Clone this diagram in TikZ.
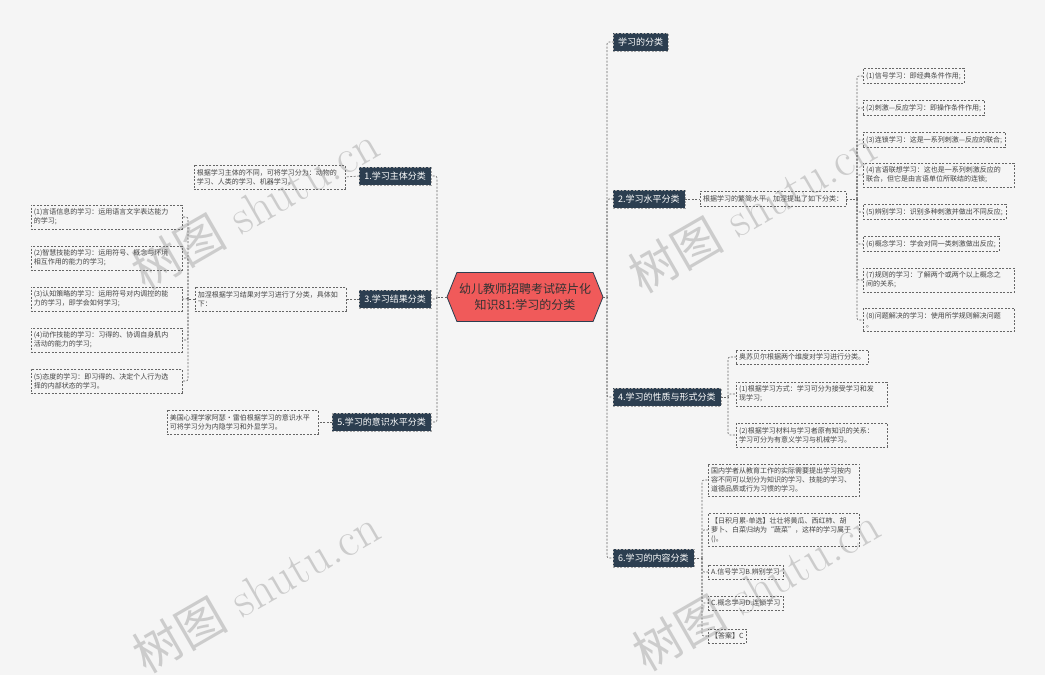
\documentclass[tikz,border=0pt]{standalone}
\usepackage{fontspec}
\newfontfamily\cjk{Noto Sans CJK SC}
\usetikzlibrary{shapes.symbols}
\definecolor{bgcol}{HTML}{F5F5F5}
\definecolor{navy}{HTML}{2C3E50}
\definecolor{rootred}{HTML}{F05A5A}
\definecolor{inkgray}{HTML}{444444}

\begin{document}
\begin{tikzpicture}[
    x=1pt, y=-1pt,
    font=\cjk,
    % Node styles
    root/.style={signal, signal to=west and east, signal pointer angle=136, draw=navy, line width=0.8pt, fill=rootred, text=black!80, font=\cjk\fontsize{12}{16}\selectfont, align=center, minimum height=49pt, minimum width=156pt, inner xsep=2pt},
    branch/.style={draw=gray!70, dash pattern=on 2pt off 1.5pt, fill=navy, text=white, font=\cjk\fontsize{9}{11}\selectfont, inner xsep=5pt, inner ysep=5pt},
    leaf/.style={draw=black!60, dash pattern=on 2pt off 1.5pt, text=inkgray, font=\cjk\fontsize{7}{9}\selectfont, align=left, inner xsep=3pt, inner ysep=4pt},
    wide/.style={leaf, text width=145pt},
    link/.style={draw=black!60, dash pattern=on 2pt off 1.5pt, line width=0.6pt, rounded corners=2pt},
    wmark/.style={text=gray, text opacity=0.35, font=\rmfamily\fontsize{48}{48}\selectfont, rotate=30},
]

    % Background
    \fill[bgcol] (0,0) rectangle (1045,675);
    \useasboundingbox (0,0) rectangle (1045,675);

    % Centre
    \node[root] (root) at (525,297) {幼儿教师招聘考试碎片化\\知识81:学习的分类};

    % Branches
    \node[branch, anchor=west] (cls) at (613,42) {学习的分类};
    \node[branch, anchor=west] (lvl) at (613,199) {2.学习水平分类};
    \node[branch, anchor=west] (nat) at (613,397) {4.学习的性质与形式分类};
    \node[branch, anchor=west] (cont) at (613,558) {6.学习的内容分类};
    \node[branch, anchor=east] (subj) at (431,176) {1.学习主体分类};
    \node[branch, anchor=east] (res) at (431,299) {3.学习结果分类};
    \node[branch, anchor=east] (aware) at (431,422) {5.学习的意识水平分类};

    % Trunks
    \coordinate (rt) at (607,297);
    \coordinate (lt) at (437,297);
    \draw[link] (root.east) -- (rt);
    \draw[link] (root.west) -- (lt);
    \foreach \b in {cls,lvl,nat,cont} \draw[link] (rt) |- (\b.west);
    \foreach \b in {subj,res,aware} \draw[link] (lt) |- (\b.east);

    % 1. subject
    \node[wide, anchor=east] (subjleaf) at (345,177) {根据学习主体的不同，可将学习分为：动物的\\学习、人类的学习、机器学习。};
    \draw[link] (subj.west) -- (subjleaf.east);

    % 2. level
    \node[leaf, anchor=west] (lvlintro) at (700,199) {根据学习的繁简水平，加涅提出了如下分类：};
    \node[leaf, anchor=west] (lvl1) at (863,76) {(1)信号学习：即经典条件作用;};
    \node[leaf, anchor=west] (lvl2) at (863,108) {(2)刺激—反应学习：即操作条件作用;};
    \node[leaf, anchor=west] (lvl3) at (863,140) {(3)连锁学习：这是一系列刺激—反应的联合;};
    \node[wide, anchor=west] (lvl4) at (863,175) {(4)言语联想学习：这也是一系列刺激反应的\\联合，但它是由言语单位所联结的连锁;};
    \node[leaf, anchor=west] (lvl5) at (863,212) {(5)辨别学习：识别多种刺激并做出不同反应;};
    \node[leaf, anchor=west] (lvl6) at (863,244) {(6)概念学习：学会对同一类刺激做出反应;};
    \node[wide, anchor=west] (lvl7) at (863,280) {(7)规则的学习：了解两个或两个以上概念之\\间的关系;};
    \node[wide, anchor=west] (lvl8) at (863,320) {(8)问题解决的学习：使用所学规则解决问题\\。};
    \coordinate (lvlt) at (857,199);
    \draw[link] (lvl.east) -- (lvlintro.west);
    \draw[link] (lvlintro.east) -- (lvlt);
    \foreach \i in {1,...,8} \draw[link] (lvlt) |- (lvl\i.west);

    % 3. result
    \node[wide, anchor=east] (resintro) at (346,299) {加涅根据学习结果对学习进行了分类，具体如\\下：};
    \node[wide, anchor=east] (res1) at (182,217) {(1)言语信息的学习：运用语言文字表达能力\\的学习;};
    \node[wide, anchor=east] (res2) at (182,258) {(2)智慧技能的学习：运用符号、概念与环境\\相互作用的能力的学习;};
    \node[wide, anchor=east] (res3) at (182,299) {(3)认知策略的学习：运用符号对内调控的能\\力的学习，即学会如何学习;};
    \node[wide, anchor=east] (res4) at (182,340) {(4)动作技能的学习：习得的、协调自身肌内\\活动的能力的学习;};
    \node[wide, anchor=east] (res5) at (182,381) {(5)态度的学习：即习得的、决定个人行为选\\择的内部状态的学习。};
    \coordinate (rest) at (188,299);
    \draw[link] (res.west) -- (resintro.east);
    \draw[link] (resintro.west) -- (rest);
    \foreach \i in {1,...,5} \draw[link] (rest) |- (res\i.east);

    % 4. nature and form
    \node[leaf, anchor=west] (nat1) at (736,357) {奥苏贝尔根据两个维度对学习进行分类。};
    \node[wide, anchor=west] (nat2) at (736,394) {(1)根据学习方式：学习可分为接受学习和发\\现学习;};
    \node[wide, anchor=west] (nat3) at (736,435) {(2)根据学习材料与学习者原有知识的关系：\\学习可分为有意义学习与机械学习。};
    \coordinate (natt) at (728,397);
    \draw[link] (nat.east) -- (natt);
    \foreach \i in {1,...,3} \draw[link] (natt) |- (nat\i.west);

    % 5. awareness
    \node[wide, anchor=east] (awareleaf) at (318,422) {美国心理学家阿瑟•雷伯根据学习的意识水平\\可将学习分为内隐学习和外显学习。};
    \draw[link] (aware.west) -- (awareleaf.east);

    % 6. content
    \node[wide, anchor=west] (cont1) at (708,480) {国内学者从教育工作的实际需要提出学习按内\\容不同可以划分为知识的学习、技能的学习、\\道德品质或行为习惯的学习。};
    \node[wide, anchor=west] (cont2) at (708,530) {【日积月累-单选】壮壮将黄瓜、西红柿、胡\\萝卜、白菜归纳为“蔬菜”，这样的学习属于\\()。};
    \node[leaf, anchor=west] (cont3) at (708,572) {A.信号学习B.辨别学习};
    \node[leaf, anchor=west] (cont4) at (708,603) {C.概念学习D.连锁学习};
    \node[leaf, anchor=west] (cont5) at (708,636) {【答案】C};
    \coordinate (contt) at (702,558);
    \draw[link] (cont.east) -- (contt);
    \foreach \i in {1,...,5} \draw[link] (contt) |- (cont\i.west);

    % Watermarks
    \node[wmark] (wm1) at (255,207) {{\cjk 树图} shutu.cn};
    \node[wmark] (wm2) at (752,210) {{\cjk 树图} shutu.cn};
    \node[wmark] (wm3) at (256,590) {{\cjk 树图} shutu.cn};
    \node[wmark] (wm4) at (756,588) {{\cjk 树图} shutu.cn};

\end{tikzpicture}
\end{document}
